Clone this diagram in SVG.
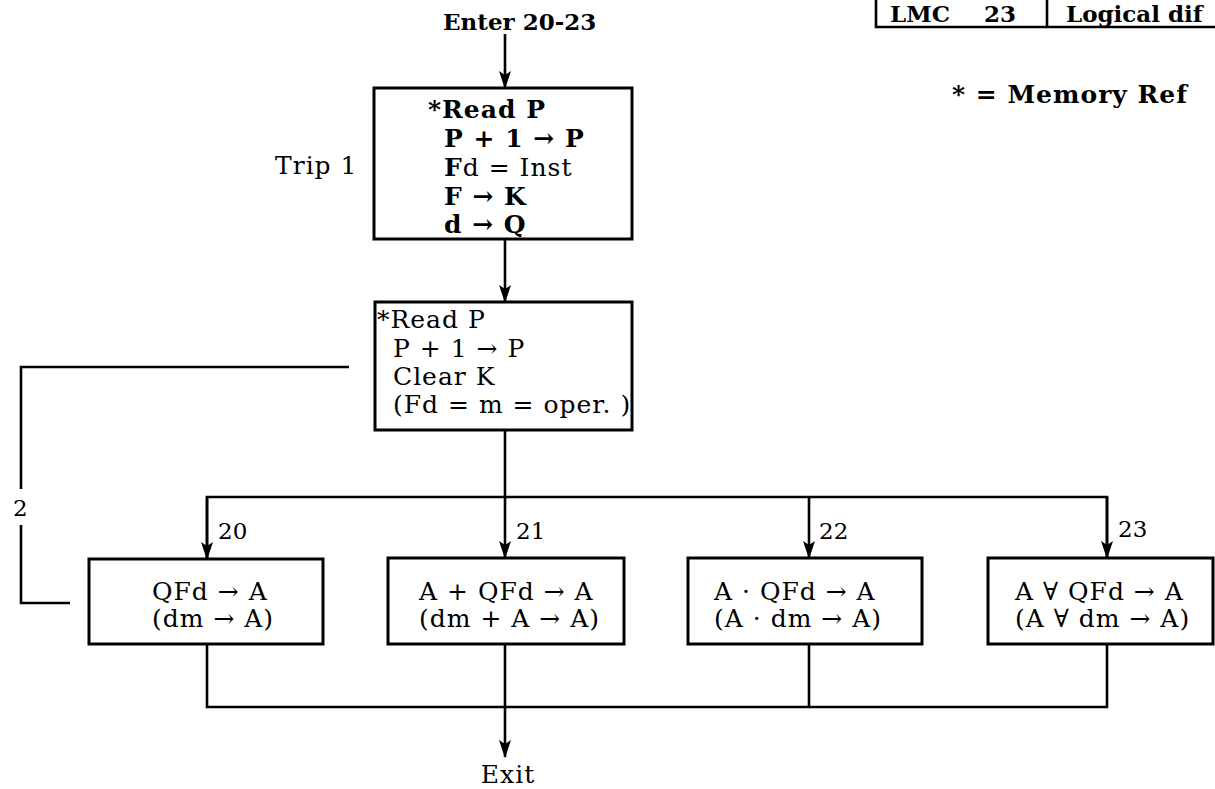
<svg xmlns="http://www.w3.org/2000/svg" width="1215" height="789" viewBox="0 0 1215 789">
<defs>
<marker id="ah" markerWidth="18" markerHeight="12" refX="17" refY="6" orient="auto" markerUnits="userSpaceOnUse" viewBox="0 0 18 12">
<path d="M0,0 L18,6 L0,12 L4,6 Z" fill="#000"/>
</marker>
<style>
.t{font-family:"DejaVu Serif","Liberation Serif",serif;font-size:25px;letter-spacing:1px;fill:#000}
.s{font-size:23px;letter-spacing:0}
.b{font-weight:bold}
.box{fill:#fff;stroke:#000;stroke-width:3}
.c{fill:none;stroke:#000;stroke-width:2.6}
</style>
</defs>
<rect width="1215" height="789" fill="#fff"/>

<g id="legend">
<path class="c" d="M876,0 V27 H1215 M1047,0 V27"/>
<text class="t s b" x="890" y="22">LMC</text>
<text class="t s b" x="984" y="22">23</text>
<text class="t s b" x="1066" y="22">Logical dif</text>
<text class="t b" x="952" y="103">* = Memory Ref</text>
</g>

<g id="connectors">
<line class="c" x1="505" y1="34" x2="505" y2="88" marker-end="url(#ah)"/>
<line class="c" x1="505" y1="239" x2="505" y2="302" marker-end="url(#ah)"/>
<path class="c" d="M505,430 V497 M207,558 V497 H1107 V558"/>
<line class="c" x1="207" y1="497" x2="207" y2="559" marker-end="url(#ah)"/>
<line class="c" x1="505" y1="497" x2="505" y2="558" marker-end="url(#ah)"/>
<line class="c" x1="809" y1="497" x2="809" y2="558" marker-end="url(#ah)"/>
<line class="c" x1="1107" y1="497" x2="1107" y2="558" marker-end="url(#ah)"/>
<path class="c" d="M349,367 H21 V489 M21,525 V603 H70"/>
<path class="c" d="M207,644 V707 H1107 V644 M809,644 V707"/>
<line class="c" x1="505" y1="644" x2="505" y2="757" marker-end="url(#ah)"/>
<text class="t s" x="13" y="516">2</text>
<text class="t s" x="218" y="539">20</text>
<text class="t s" x="516" y="539">21</text>
<text class="t s" x="819" y="539">22</text>
<text class="t s" x="1118" y="537">23</text>
</g>

<g id="enter">
<text class="t s b" x="443" y="30">Enter 20-23</text>
</g>

<g id="trip1">
<rect class="box" x="374" y="88" width="258" height="151"/>
<text class="t" x="275" y="174">Trip 1</text>
<text class="t b" x="428" y="118">*Read P</text>
<text class="t b" x="444" y="147">P + 1 → P</text>
<text class="t" x="444" y="176"><tspan class="b">F</tspan>d = Inst</text>
<text class="t b" x="444" y="205">F → K</text>
<text class="t b" x="444" y="233">d → Q</text>
</g>

<g id="trip2">
<rect class="box" x="375" y="302" width="257" height="128"/>
<text class="t" x="377" y="328">*Read P</text>
<text class="t" x="393" y="357">P + 1 → P</text>
<text class="t" x="393" y="385">Clear K</text>
<text class="t" x="393" y="413">(Fd = m = oper. )</text>
</g>

<g id="op20">
<rect class="box" x="89" y="559" width="234" height="85"/>
<text class="t" x="152" y="600">QFd → A</text>
<text class="t" x="152" y="627">(dm → A)</text>
</g>

<g id="op21">
<rect class="box" x="388" y="558" width="236" height="86"/>
<text class="t" x="419" y="600">A + QFd → A</text>
<text class="t" x="419" y="627">(dm + A → A)</text>
</g>

<g id="op22">
<rect class="box" x="688" y="558" width="234" height="86"/>
<text class="t" x="714" y="600">A · QFd → A</text>
<text class="t" x="714" y="627">(A · dm → A)</text>
</g>

<g id="op23">
<rect class="box" x="988" y="558" width="225" height="86"/>
<text class="t" x="1015" y="600">A ∀ QFd → A</text>
<text class="t" x="1015" y="627">(A ∀ dm → A)</text>
</g>

<g id="exit">
<text class="t" x="508" y="783" text-anchor="middle">Exit</text>
</g>
</svg>
